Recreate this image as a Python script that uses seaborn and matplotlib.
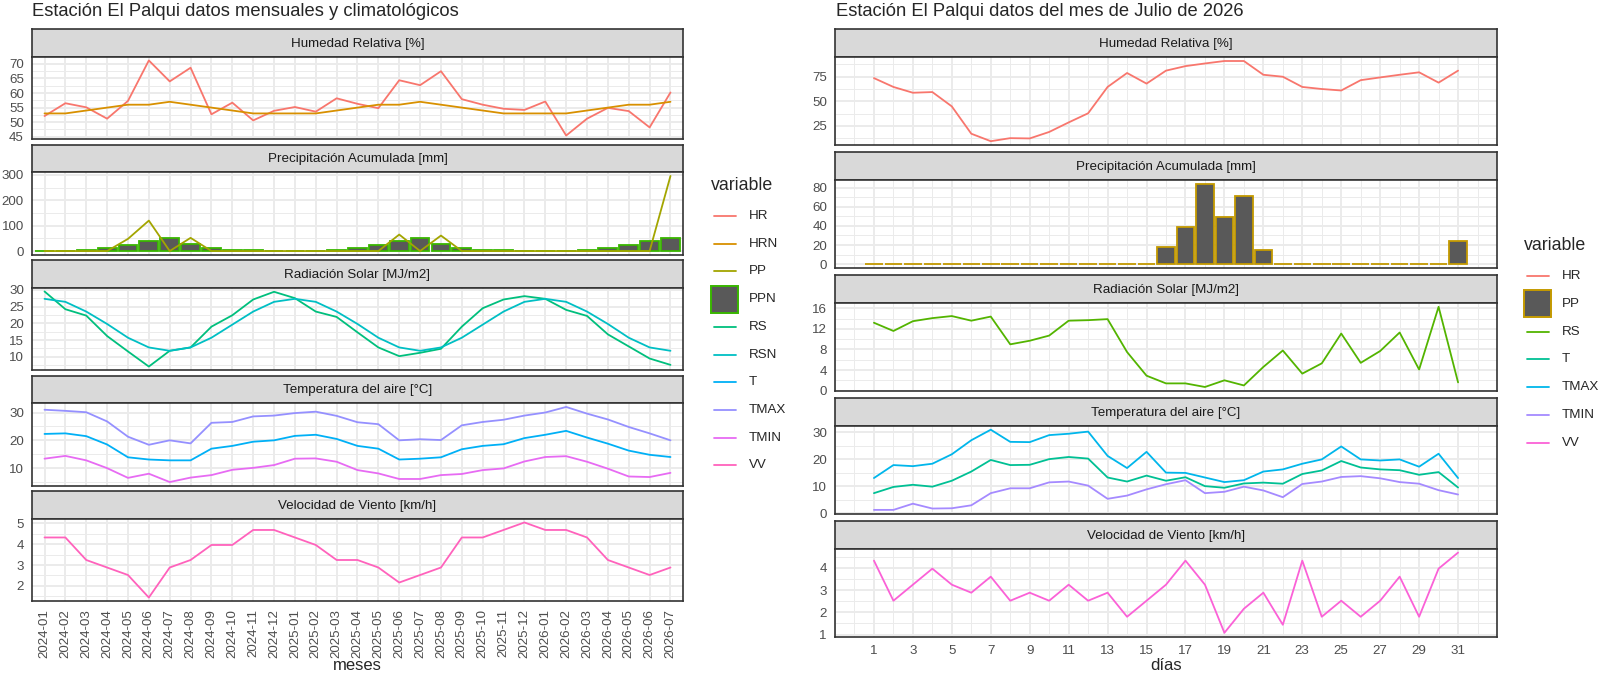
import numpy as np
import pandas as pd
import matplotlib
matplotlib.use("Agg")
import matplotlib.pyplot as plt
import seaborn as sns
from matplotlib.patches import Rectangle
from matplotlib.ticker import MultipleLocator

sns.set_theme(style="white")
plt.rcParams['font.family'] = ['Liberation Sans', 'DejaVu Sans']

# ---------------- monthly / climatological data ----------------
meses = list(pd.period_range('2024-01', '2026-07', freq='M').strftime('%Y-%m'))

hr_m = [52.1, 56.5, 55.1, 51.2, 57.3, 71.2, 64.0, 68.7, 52.7, 56.7, 50.6, 53.9,
        55.2, 53.6, 58.2, 56.3, 54.8, 64.4, 62.7, 67.5, 57.9, 56.0, 54.6, 54.2,
        57.1, 45.4, 51.2, 54.9, 53.8, 48.2, 60.2]
hrn_m = [53, 53, 54, 55, 56, 56, 57, 56, 55, 54, 53, 53,
         53, 53, 54, 55, 56, 56, 57, 56, 55, 54, 53, 53,
         53, 53, 54, 55, 56, 56, 57]
pp_m = [0, 0, 0, 0, 48, 120, 0, 52, 0, 0, 0, 0,
        0, 0, 0, 0, 0, 65, 0, 61, 0, 0, 0, 0,
        0, 0, 0, 0, 0, 0, 296]
ppn_m = [1, 1, 5, 12, 23, 41, 51, 29, 13, 6, 3, 1,
         1, 1, 5, 12, 23, 41, 51, 29, 13, 6, 3, 1,
         1, 1, 5, 12, 23, 41, 51]
rs_m = [29.5, 24.2, 22.3, 16.2, 11.6, 7.1, 11.8, 12.8, 19.0, 22.4, 27.1, 29.4,
        27.5, 23.5, 21.9, 17.3, 12.8, 10.2, 11.2, 12.4, 19.0, 24.5, 27.1, 28.1,
        27.3, 24.0, 22.2, 16.7, 13.1, 9.5, 7.6]
rsn_m = [27.3, 26.4, 23.5, 19.8, 15.7, 12.8, 11.8, 12.8, 15.7, 19.6, 23.5, 26.4,
         27.3, 26.4, 23.5, 19.8, 15.7, 12.8, 11.8, 12.8, 15.7, 19.6, 23.5, 26.4,
         27.3, 26.4, 23.5, 19.8, 15.7, 12.8, 11.8]
t_m = [22.3, 22.5, 21.5, 18.5, 13.9, 13.1, 12.8, 12.8, 17.0, 18.0, 19.5, 20.0,
       21.6, 22.0, 20.5, 18.0, 17.0, 13.1, 13.4, 13.9, 16.8, 18.0, 18.6, 20.8,
       22.0, 23.4, 21.0, 18.8, 16.3, 14.8, 14.0]
tmax_m = [31.0, 30.6, 30.1, 26.8, 21.3, 18.4, 20.0, 18.9, 26.3, 26.6, 28.6, 28.9,
          29.8, 30.3, 28.8, 26.5, 25.8, 20.0, 20.4, 20.1, 25.4, 26.6, 27.4, 28.9,
          30.0, 32.0, 29.6, 27.5, 24.8, 22.5, 20.0]
tmin_m = [13.4, 14.4, 12.8, 10.0, 6.5, 8.0, 5.0, 6.6, 7.5, 9.4, 10.1, 11.1,
          13.4, 13.5, 12.3, 9.3, 8.1, 6.1, 6.1, 7.5, 7.9, 9.3, 9.9, 12.4,
          14.0, 14.3, 12.3, 9.8, 7.0, 6.8, 8.3]
vv_m = [4.32, 4.32, 3.24, 2.88, 2.52, 1.44, 2.88, 3.24, 3.96, 3.96, 4.68, 4.68,
        4.32, 3.96, 3.24, 3.24, 2.88, 2.16, 2.52, 2.88, 4.32, 4.32, 4.68, 5.04,
        4.68, 4.68, 4.32, 3.24, 2.88, 2.52, 2.88]

# ---------------- daily data, July 2026 ----------------
dias = list(range(1, 32))
hr_d = [73.6, 64.6, 58.7, 59.4, 44.8, 17.0, 9.4, 12.5, 12.2, 18.8, 28.5, 37.8,
        64.6, 78.8, 68.0, 81.2, 85.8, 88.5, 91.0, 91.0, 77.0, 75.0, 64.6, 62.5,
        61.0, 71.5, 74.3, 77.0, 79.5, 69.0, 81.2]
pp_d = [0, 0, 0, 0, 0, 0, 0, 0, 0, 0, 0, 0, 0, 0, 0, 17.5, 39, 84, 49, 71, 15,
        0, 0.6, 0, 0, 0, 0, 0, 0, 0, 24.5]
rs_d = [13.2, 11.6, 13.5, 14.1, 14.5, 13.6, 14.4, 9.0, 9.7, 10.7, 13.6, 13.7,
        13.9, 7.5, 2.9, 1.4, 1.4, 0.7, 2.0, 1.0, 4.6, 7.8, 3.3, 5.3,
        11.1, 5.4, 7.7, 11.3, 4.1, 16.3, 1.6]
t_d = [7.5, 9.8, 10.6, 9.9, 12.1, 15.5, 19.8, 17.9, 18.0, 20.1, 20.9, 20.3,
       13.3, 11.8, 14.0, 12.1, 13.4, 10.1, 9.5, 11.1, 11.4, 11.0, 14.6, 15.9,
       19.4, 17.0, 16.3, 16.0, 14.3, 15.3, 9.6]
tmax_d = [13.1, 17.9, 17.5, 18.4, 21.9, 27.1, 31.0, 26.5, 26.4, 29.0, 29.5, 30.3,
          21.3, 16.8, 22.8, 15.1, 15.0, 13.3, 11.6, 12.3, 15.5, 16.3, 18.4, 20.0,
          24.8, 20.0, 19.6, 20.0, 17.3, 22.1, 13.1]
tmin_d = [1.3, 1.3, 3.6, 1.8, 1.9, 3.0, 7.5, 9.3, 9.3, 11.5, 11.8, 10.3,
          5.4, 6.6, 8.9, 10.8, 12.3, 7.5, 8.0, 9.9, 8.5, 6.0, 10.9, 11.8,
          13.5, 13.8, 13.0, 11.6, 11.0, 8.6, 7.0]
vv_d = [4.32, 2.52, 3.24, 3.96, 3.24, 2.88, 3.6, 2.52, 2.88, 2.52, 3.24, 2.52,
        2.88, 1.8, 2.52, 3.24, 4.32, 3.24, 1.08, 2.16, 2.88, 1.44, 4.32, 1.8,
        2.52, 1.8, 2.52, 3.6, 1.8, 3.96, 4.68]

titulos = ['Humedad Relativa [%]', 'Precipitación Acumulada [mm]',
           'Radiación Solar [MJ/m2]', 'Temperatura del aire [°C]',
           'Velocidad de Viento [km/h]']

# ggplot hue palettes (10 and 7 levels)
pal_m = {'HR': '#F8766D', 'HRN': '#D89000', 'PP': '#A3A500', 'PPN': '#39B600',
         'RS': '#00BF7D', 'RSN': '#00BFC4', 'T': '#00B0F6', 'TMAX': '#9590FF',
         'TMIN': '#E76BF3', 'VV': '#FF62BC'}
pal_d = {'HR': '#F8766D', 'PP': '#C49A00', 'RS': '#53B400', 'T': '#00C094',
         'TMAX': '#00B6EB', 'TMIN': '#A58AFF', 'VV': '#FB61D7'}
BAR_FILL = '#595959'
DARK = '#333333'
FS = 9.6

W, H = 1600, 676
fig = plt.figure(figsize=(16, 6.76), dpi=100)
fig.patch.set_facecolor('white')

# full-figure overlay in pixel units, for titles and legends
bg = fig.add_axes([0, 0, 1, 1])
bg.set_xlim(0, W)
bg.set_ylim(H, 0)
bg.axis('off')


def box(x0, y0, x1, y1):
    return [x0 / W, 1 - y1 / H, (x1 - x0) / W, (y1 - y0) / H]


def panel(x0, x1, top, strip_h, height, title):
    st = fig.add_axes(box(x0, top, x1, top + strip_h))
    st.set_facecolor('#D9D9D9')
    st.set_xticks([])
    st.set_yticks([])
    for s in st.spines.values():
        s.set_color(DARK)
        s.set_linewidth(1.2)
    st.text(0.5, 0.47, title, ha='center', va='center', fontsize=FS,
            color='#1A1A1A', transform=st.transAxes)
    ax = fig.add_axes(box(x0, top + strip_h, x1, top + strip_h + height))
    ax.set_facecolor('white')
    for s in ax.spines.values():
        s.set_color(DARK)
        s.set_linewidth(1.2)
    ax.set_axisbelow(True)
    ax.grid(True, which='major', color='#EBEBEB', linewidth=1.4)
    ax.grid(True, which='minor', color='#EBEBEB', linewidth=0.7)
    ax.tick_params(which='major', length=3.8, width=1.0, color=DARK,
                   labelsize=FS, labelcolor='#4D4D4D', pad=2)
    ax.tick_params(which='minor', length=0)
    return ax


def draw_lines(ax, x, series, pal):
    df = pd.DataFrame({'x': x, **series}).melt('x', var_name='variable', value_name='value')
    sns.lineplot(data=df, x='x', y='value', hue='variable', palette=pal,
                 ax=ax, legend=False, linewidth=1.3)


def finish(ax, series, step, bars=False):
    vals = np.concatenate([np.asarray(v, dtype=float) for v in series])
    lo, hi = vals.min(), vals.max()
    if bars:
        lo = min(lo, 0)
    pad = 0.05 * (hi - lo)
    ax.set_ylim(lo - pad, hi + pad)
    ax.yaxis.set_major_locator(MultipleLocator(step))
    ax.yaxis.set_minor_locator(MultipleLocator(step / 2))
    ax.set_xlabel('')
    ax.set_ylabel('')


def legend(pal, bar_key, x, y_title, y0, dy):
    bg.text(x, y_title, 'variable', fontsize=12.8, va='center', ha='left')
    for i, (k, c) in enumerate(pal.items()):
        yc = y0 + i * dy
        if k == bar_key:
            bg.add_patch(Rectangle((x, yc - 13.5), 27, 27, facecolor=BAR_FILL,
                                   edgecolor=c, linewidth=1.4))
        else:
            bg.plot([x + 2.5, x + 25], [yc, yc], color=c, linewidth=1.3)
        bg.text(x + 37.5, yc, k, fontsize=FS, va='center', ha='left')


# ================= left: monthly =================
xm = np.arange(len(meses))
LX0, LX1 = 32, 683
L_TOP, L_STRIP, L_PANEL, L_GAP = 29.3, 27.4, 82.6, 5.5
left_axes = [panel(LX0, LX1, L_TOP + i * (L_STRIP + L_PANEL + L_GAP), L_STRIP, L_PANEL, t)
             for i, t in enumerate(titulos)]

ax = left_axes[0]
draw_lines(ax, xm, {'HR': hr_m, 'HRN': hrn_m}, pal_m)
finish(ax, [hr_m, hrn_m], 5)

ax = left_axes[1]
sns.barplot(x=xm, y=ppn_m, native_scale=True, width=0.9, color=BAR_FILL,
            saturation=1, edgecolor=pal_m['PPN'], linewidth=1.3, errorbar=None, ax=ax)
draw_lines(ax, xm, {'PP': pp_m}, pal_m)
finish(ax, [pp_m, ppn_m], 100, bars=True)

ax = left_axes[2]
draw_lines(ax, xm, {'RS': rs_m, 'RSN': rsn_m}, pal_m)
finish(ax, [rs_m, rsn_m], 5)

ax = left_axes[3]
draw_lines(ax, xm, {'T': t_m, 'TMAX': tmax_m, 'TMIN': tmin_m}, pal_m)
finish(ax, [t_m, tmax_m, tmin_m], 10)

ax = left_axes[4]
draw_lines(ax, xm, {'VV': vv_m}, pal_m)
finish(ax, [vv_m], 1)

for i, ax in enumerate(left_axes):
    ax.set_xlim(-0.6, len(meses) - 0.4)
    ax.set_xticks(xm)
    ax.xaxis.set_minor_locator(plt.NullLocator())
    if i < len(left_axes) - 1:
        ax.tick_params(axis='x', length=0, labelbottom=False)
left_axes[-1].set_xticklabels(meses, rotation=90)

# ================= right: daily =================
xd = np.array(dias)
RX0, RX1 = 835, 1497
R_TOP, R_STRIP, R_PANEL, R_GAP = 29.3, 27.7, 88.2, 7.0
right_axes = [panel(RX0, RX1, R_TOP + i * (R_STRIP + R_PANEL + R_GAP), R_STRIP, R_PANEL, t)
              for i, t in enumerate(titulos)]

ax = right_axes[0]
draw_lines(ax, xd, {'HR': hr_d}, pal_d)
finish(ax, [hr_d], 25)

ax = right_axes[1]
sns.barplot(x=xd, y=pp_d, native_scale=True, width=0.9, color=BAR_FILL,
            saturation=1, edgecolor=pal_d['PP'], linewidth=1.3, errorbar=None, ax=ax)
finish(ax, [pp_d], 20, bars=True)

ax = right_axes[2]
draw_lines(ax, xd, {'RS': rs_d}, pal_d)
finish(ax, [rs_d], 4)

ax = right_axes[3]
draw_lines(ax, xd, {'T': t_d, 'TMAX': tmax_d, 'TMIN': tmin_d}, pal_d)
finish(ax, [t_d, tmax_d, tmin_d], 10)

ax = right_axes[4]
draw_lines(ax, xd, {'VV': vv_d}, pal_d)
finish(ax, [vv_d], 1)

for i, ax in enumerate(right_axes):
    ax.set_xlim(-1.0, 33.0)
    ax.set_xticks(dias[::2])
    ax.xaxis.set_minor_locator(MultipleLocator(1))
    if i < len(right_axes) - 1:
        ax.tick_params(axis='x', length=0, labelbottom=False)
right_axes[-1].set_xticklabels([str(d) for d in dias[::2]])

# ================= titles, axis titles and legends =================
bg.text(32.5, 15.5, 'Estación El Palqui datos mensuales y climatológicos',
        fontsize=13.2, va='baseline', ha='left')
bg.text(836, 15.5, 'Estación El Palqui datos del mes de Julio de 2026',
        fontsize=13.2, va='baseline', ha='left')
bg.text((LX0 + LX1) / 2, 670, 'meses', fontsize=12, va='baseline', ha='center')
bg.text((RX0 + RX1) / 2, 670, 'días', fontsize=12, va='baseline', ha='center')

legend(pal_m, 'PPN', 711, 185, 216, 27.7)
legend(pal_d, 'PP', 1524, 245.7, 276, 27.8)

fig.savefig('out.png', dpi=100, facecolor='white')
